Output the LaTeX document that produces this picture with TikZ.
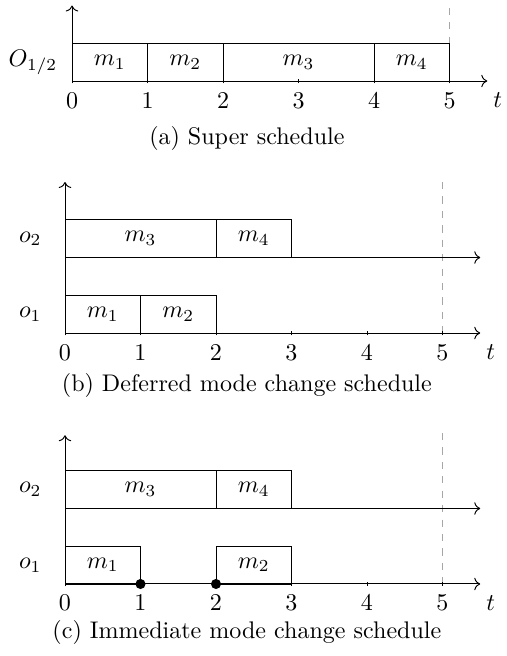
\documentclass[tikz,border=0pt]{standalone}
\usepackage{tikz}
\usetikzlibrary{arrows.meta}

\tikzset{
    job/.style={draw,thin,inner sep=0pt,minimum height=15.8pt},
    deadline/.style={draw=gray!70,dashed},
    switchpt/.style={circle,fill=black,inner sep=0pt,minimum size=4.2pt}
}

\begin{document}
\begin{tikzpicture}[x=31.4pt,y=31.4pt]
\useasboundingbox (0,0) rectangle (6.715,8.689);

% (a) super schedule
\begin{scope}[shift={(0.954,7.616)}]
    \coordinate (ao) at (0,0);
    \coordinate (ax) at (5.5,0);
    \coordinate (ay) at (0,1.0);
    \coordinate (adt) at (5,0.97);
    \coordinate (adb) at (5,0.503);
    \draw[deadline] (adt) -- (adb);
    \node[job,minimum width=31.4pt] (am1) at (0.5,0.2515) {$m_1$};
    \node[job,minimum width=31.4pt] (am2) at (1.5,0.2515) {$m_2$};
    \node[job,minimum width=62.8pt] (am3) at (3,0.2515) {$m_3$};
    \node[job,minimum width=31.4pt] (am4) at (4.5,0.2515) {$m_4$};
    \draw[->] (ao) -- (ax);
    \draw[->] (ao) -- (ay);
    \foreach \i in {0,...,5} {
        \draw (\i,-0.03) -- (\i,0.03);
        \node (al\i) at (\i,-0.255) {$\i$};
    }
    \node (at) at (5.64,-0.255) {$t$};
    \node (arow) at (-0.517,0.25) {$O_{1/2}$};
\end{scope}
\node (acap) at (3.27,6.861) {(a) Super schedule};

% (b) deferred mode change
\begin{scope}[shift={(0.861,4.278)}]
    \coordinate (bo) at (0,0);
    \coordinate (bx) at (5.5,0);
    \coordinate (bo2) at (0,1);
    \coordinate (bx2) at (5.5,1);
    \coordinate (by) at (0,2);
    \coordinate (bdt) at (5,2);
    \coordinate (bdb) at (5,0);
    \draw[deadline] (bdt) -- (bdb);
    \node[job,minimum width=31.4pt] (bm1) at (0.5,0.2515) {$m_1$};
    \node[job,minimum width=31.4pt] (bm2) at (1.5,0.2515) {$m_2$};
    \node[job,minimum width=62.8pt] (bm3) at (1,1.2515) {$m_3$};
    \node[job,minimum width=31.4pt] (bm4) at (2.5,1.2515) {$m_4$};
    \draw[->] (bo) -- (bx);
    \draw[->] (bo2) -- (bx2);
    \draw[->] (bo) -- (by);
    \foreach \i in {0,...,5} {
        \draw (\i,-0.03) -- (\i,0.03);
        \node (bl\i) at (\i,-0.255) {$\i$};
    }
    \node (bt) at (5.64,-0.255) {$t$};
    \node (brow1) at (-0.46,0.25) {$o_1$};
    \node (brow2) at (-0.46,1.25) {$o_2$};
\end{scope}
\node (bcap) at (3.27,3.589) {(b) Deferred mode change schedule};

% (c) immediate mode change
\begin{scope}[shift={(0.861,0.954)}]
    \coordinate (co) at (0,0);
    \coordinate (cx) at (5.5,0);
    \coordinate (co2) at (0,1);
    \coordinate (cx2) at (5.5,1);
    \coordinate (cy) at (0,1.97);
    \coordinate (cdt) at (5,2);
    \coordinate (cdb) at (5,0);
    \draw[deadline] (cdt) -- (cdb);
    \node[job,minimum width=31.4pt] (cm1) at (0.5,0.2515) {$m_1$};
    \node[job,minimum width=31.4pt] (cm2) at (2.5,0.2515) {$m_2$};
    \node[job,minimum width=62.8pt] (cm3) at (1,1.2515) {$m_3$};
    \node[job,minimum width=31.4pt] (cm4) at (2.5,1.2515) {$m_4$};
    \draw[->] (co) -- (cx);
    \draw[->] (co2) -- (cx2);
    \draw[->] (co) -- (cy);
    \foreach \i in {0,...,5} {
        \draw (\i,-0.03) -- (\i,0.03);
        \node (cl\i) at (\i,-0.255) {$\i$};
    }
    \node[switchpt] (cs1) at (1,0) {};
    \node[switchpt] (cs2) at (2,0) {};
    \node (ct) at (5.64,-0.255) {$t$};
    \node (crow1) at (-0.46,0.25) {$o_1$};
    \node (crow2) at (-0.46,1.25) {$o_2$};
\end{scope}
\node (ccap) at (3.27,0.305) {(c) Immediate mode change schedule};
\end{tikzpicture}
\end{document}
